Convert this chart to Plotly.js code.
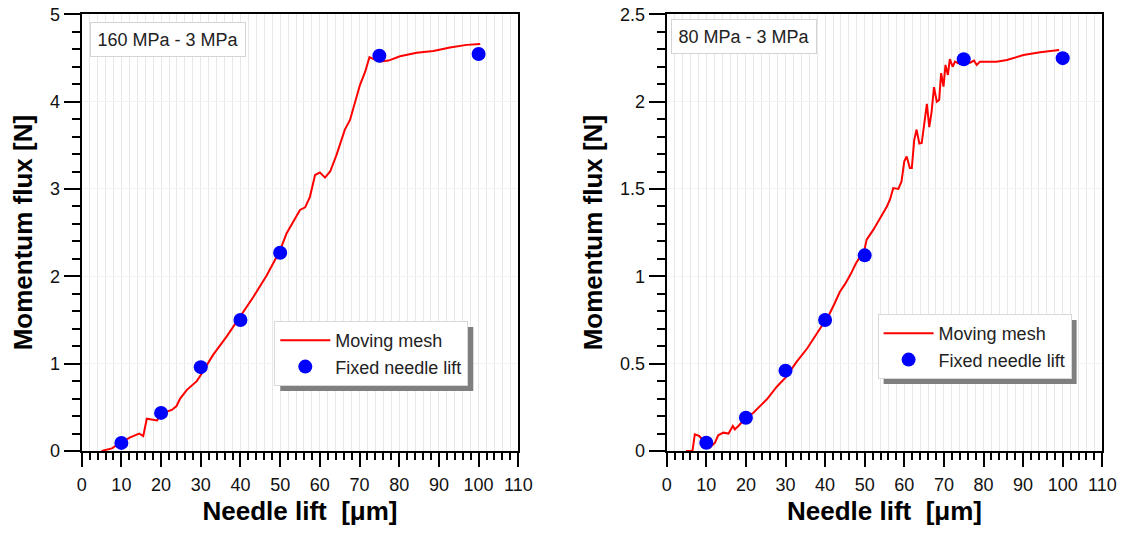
<!DOCTYPE html>
<html>
<head>
<meta charset="utf-8">
<script src="https://cdn.plot.ly/plotly-3.0.1.min.js"></script>
<style>html,body{margin:0;padding:0;background:#fff;}#plot{width:1129px;height:533px;}</style>
</head>
<body>
<div id="plot"></div>
<script>
// ---- data ----
const panelTitles = ['160 MPa - 3 MPa', '80 MPa - 3 MPa'];
const seriesNames = ['Moving mesh', 'Fixed needle lift'];
const xTitle = 'Needle lift\u00a0 [\u03bcm]';
const yTitle = 'Momentum flux [N]';

// left panel (160 MPa - 3 MPa)
const movLeftX = [5.0, 7.6, 10, 12.2, 14.5, 15.5, 16.4, 19.0, 20, 22.7, 23.9, 24.8, 26.5, 29, 30, 33.1, 36.5, 40, 43.2, 46.6, 49.9, 51.6, 53.3, 55.0, 56.3, 57.5, 58.8, 60.0, 61.3, 62.6, 64.2, 66.3, 67.6, 70.1, 71.4, 72.5, 73.4, 75.2, 77.3, 80.2, 84.4, 88.6, 92.8, 97, 100.4];
const movLeftY = [0, 0.03, 0.1, 0.157, 0.2, 0.17, 0.37, 0.35, 0.43, 0.47, 0.515, 0.6, 0.7, 0.8, 0.87, 1.10, 1.31, 1.54, 1.76, 2.01, 2.29, 2.49, 2.62, 2.76, 2.79, 2.91, 3.16, 3.19, 3.13, 3.20, 3.39, 3.68, 3.79, 4.19, 4.34, 4.51, 4.49, 4.46, 4.47, 4.52, 4.56, 4.58, 4.62, 4.65, 4.66];

// right panel (80 MPa - 3 MPa)
const movRightX = [4.9, 6.5, 7.1, 8.2, 10.9, 12.2, 13.0, 14.3, 15.6, 16.4, 16.7, 17.2, 18.1, 20, 21.9, 25.3, 27.8, 30, 32.8, 35.5, 38.2, 41, 42.3, 43.7, 45.1, 46.4, 47.8, 49.9, 50.5, 52.2, 55.6, 56.4, 57.2, 58.5, 59.3, 60.0, 60.6, 61.4, 61.9, 62.5, 63.1, 63.8, 64.4, 65.1, 65.7, 66.3, 66.9, 67.5, 68.2, 68.8, 69.3, 69.9, 70.4, 71.0, 71.5, 72.2, 72.8, 73.6, 76.6, 77.6, 78.3, 79.1, 83.3, 85.9, 90.1, 94.3, 99.1];
const movRightY = [0, 0, 0.095, 0.086, 0.02, 0.048, 0.09, 0.105, 0.10, 0.128, 0.143, 0.124, 0.143, 0.19, 0.219, 0.296, 0.368, 0.42, 0.51, 0.588, 0.685, 0.78, 0.84, 0.91, 0.958, 1.01, 1.075, 1.15, 1.21, 1.267, 1.40, 1.44, 1.505, 1.50, 1.543, 1.658, 1.686, 1.62, 1.62, 1.78, 1.84, 1.76, 1.763, 1.896, 1.987, 1.854, 1.943, 2.083, 2.0, 2.01, 2.163, 2.086, 2.21, 2.153, 2.243, 2.20, 2.229, 2.22, 2.223, 2.235, 2.21, 2.229, 2.229, 2.238, 2.267, 2.283, 2.296];

const fixedX = [10, 20, 30, 40, 50, 75, 100];
const fixedLeftY = [0.093, 0.436, 0.96, 1.50, 2.27, 4.525, 4.545];
const fixedRightY = [0.047, 0.19, 0.46, 0.75, 1.12, 2.243, 2.249];

// ---- drawing ----
const W = 1129, H = 533;
const FONT = '"Liberation Sans", Arial, sans-serif';
const px = v => v / W;
const py = v => 1 - v / H;

function xAxis(domain, anchor) {
  return {
    domain: domain, anchor: anchor, range: [0, 110], tick0: 0, dtick: 10,
    ticks: 'outside', ticklen: 14, tickwidth: 2, tickcolor: '#000',
    showline: true, linewidth: 2, linecolor: '#000', mirror: true,
    showgrid: true, gridcolor: '#e8e8e8', gridwidth: 1, zeroline: false,
    tickfont: {family: FONT, size: 18, color: '#111'},
    ticklabelstandoff: 2,
    minor: {dtick: 2, ticks: 'outside', ticklen: 7, tickwidth: 2, tickcolor: '#000',
            showgrid: true, gridcolor: '#e8e8e8', gridwidth: 1},
    title: {text: xTitle, standoff: 8, font: {family: FONT, size: 26, color: '#000', weight: 'bold'}},
    fixedrange: true
  };
}
function yAxis(domain, anchor, top, major, minor) {
  return {
    domain: domain, anchor: anchor, range: [0, top], tick0: 0, dtick: major,
    ticks: 'outside', ticklen: 16, tickwidth: 2, tickcolor: '#000',
    showline: true, linewidth: 2, linecolor: '#000', mirror: true,
    showgrid: true, gridcolor: '#f2f2f2', gridwidth: 1, zeroline: false,
    tickfont: {family: FONT, size: 18, color: '#111'},
    minor: {dtick: minor, ticks: 'outside', ticklen: 8, tickwidth: 2, tickcolor: '#000', showgrid: false},
    title: {text: yTitle, standoff: 10, font: {family: FONT, size: 26, color: '#000', weight: 'bold'}},
    fixedrange: true
  };
}

const yDom = [1 - 451 / H, 1 - 14.3 / H];

const traces = [
  {x: movLeftX, y: movLeftY, mode: 'lines', name: seriesNames[0], line: {color: '#ff0000', width: 2},
   xaxis: 'x', yaxis: 'y', legend: 'legend'},
  {x: fixedX, y: fixedLeftY, mode: 'markers', name: seriesNames[1], marker: {color: '#0000ff', size: 14},
   xaxis: 'x', yaxis: 'y', legend: 'legend'},
  {x: movRightX, y: movRightY, mode: 'lines', name: seriesNames[0], line: {color: '#ff0000', width: 2},
   xaxis: 'x2', yaxis: 'y2', legend: 'legend2'},
  {x: fixedX, y: fixedRightY, mode: 'markers', name: seriesNames[1], marker: {color: '#0000ff', size: 14},
   xaxis: 'x2', yaxis: 'y2', legend: 'legend2'}
];

function legendCfg(x, y) {
  return {x: x, y: y, xanchor: 'left', yanchor: 'top', bgcolor: '#ffffff', bordercolor: '#d8d8d8',
          borderwidth: 1, font: {family: FONT, size: 18, color: '#222'},
          itemwidth: 50, tracegroupgap: 0};
}

const layout = {
  width: W, height: H,
  margin: {l: 0, r: 0, t: 0, b: 0},
  paper_bgcolor: '#fff', plot_bgcolor: '#fff',
  showlegend: true,
  xaxis: xAxis([px(81.7), px(518.3)], 'y'),
  yaxis: yAxis(yDom, 'x', 5, 1, 0.2),
  xaxis2: xAxis([px(666.7), px(1102.3)], 'y2'),
  yaxis2: yAxis(yDom, 'x2', 2.5, 0.5, 0.1),
  legend: legendCfg(px(274.3), py(321)),
  legend2: legendCfg(px(877.6), py(314)),
  annotations: [
    {xref: 'paper', yref: 'paper', x: px(90.3), y: py(22.5), xanchor: 'left', yanchor: 'top',
     text: panelTitles[0], showarrow: false, font: {family: FONT, size: 18, color: '#222'},
     bgcolor: '#fff', bordercolor: '#d4d4d4', borderwidth: 1, borderpad: 5, width: 144, height: 23},
    {xref: 'paper', yref: 'paper', x: px(671), y: py(19.1), xanchor: 'left', yanchor: 'top',
     text: panelTitles[1], showarrow: false, font: {family: FONT, size: 18, color: '#222'},
     bgcolor: '#fff', bordercolor: '#d4d4d4', borderwidth: 1, borderpad: 5, width: 134, height: 23}
  ]
};

const gd = document.getElementById('plot');
Plotly.newPlot(gd, traces, layout, {staticPlot: true}).then(function () {
  const root = gd.getBoundingClientRect();
  const shapes = [];
  gd.querySelectorAll('.infolayer > g').forEach(function (g) {
    const cls = g.getAttribute('class') || '';
    if (!/^legend\d*$/.test(cls)) return;
    const bg = g.querySelector(':scope > rect.bg');
    if (!bg) return;
    const r = bg.getBoundingClientRect();
    const off = 5.5;
    shapes.push({type: 'rect', xref: 'paper', yref: 'paper', layer: 'above',
      x0: px(r.left - root.left + off), x1: px(r.right - root.left + off),
      y0: py(r.bottom - root.top + off), y1: py(r.top - root.top + off),
      fillcolor: '#7f7f7f', line: {width: 0}});
  });
  return Plotly.relayout(gd, {shapes: shapes});
});
</script>
</body>
</html>
